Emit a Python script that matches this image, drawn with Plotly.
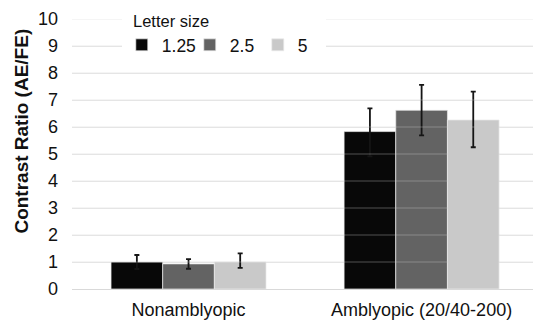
import plotly.graph_objects as go

# Group means and error bars, by letter size
groups = ["Nonamblyopic", "Amblyopic (20/40-200)"]
sizes = ["1.25", "2.5", "5"]
means_125 = [1.00, 5.83]
means_25 = [0.93, 6.62]
means_5 = [1.00, 6.26]
err_up_125 = [0.26, 0.86]
err_dn_125 = [0.26, 0.92]
err_up_25 = [0.18, 0.94]
err_dn_25 = [0.18, 0.93]
err_up_5 = [0.32, 1.05]
err_dn_5 = [0.22, 1.01]
y_ticks = list(range(0, 11))

colors = ["#080808", "#636363", "#c9c9c9"]
series = [
    (means_125, err_up_125, err_dn_125),
    (means_25, err_up_25, err_dn_25),
    (means_5, err_up_5, err_dn_5),
]

FONT = "Liberation Sans, Arial, sans-serif"

fig = go.Figure()
for name, color, (vals, up, dn) in zip(sizes, colors, series):
    fig.add_trace(go.Bar(
        name=name,
        x=groups,
        y=vals,
        marker=dict(color=color, line=dict(color="rgba(235,235,235,0.7)", width=1)),
        error_y=dict(type="data", array=up, arrayminus=dn, symmetric=False,
                     color="#151515", thickness=1.8, width=2.5),
    ))

# faint gridlines that show through the bars
grid_shapes = [
    dict(type="line", xref="paper", yref="y", x0=0, x1=1, y0=v, y1=v,
         line=dict(color="rgba(200,200,200,0.38)", width=1), layer="above")
    for v in y_ticks[1:]
]

fig.update_layout(
    width=533, height=324,
    margin=dict(l=72, r=0, t=19, b=35),
    paper_bgcolor="white", plot_bgcolor="white",
    font=dict(family=FONT, color="#111"),
    barmode="group", bargap=0.335, bargroupgap=0,
    showlegend=True,
    legend=dict(
        orientation="h",
        title=dict(text="\u00a0\u00a0Letter size", side="top", font=dict(size=16.5)),
        font=dict(size=17.5),
        entrywidth=23, entrywidthmode="pixels",
        x=0.108, xanchor="left", y=1.05, yanchor="top",
        bgcolor="white", borderwidth=0,
        traceorder="normal",
    ),
    xaxis=dict(
        range=[-0.5, 1.478],
        showgrid=False, showline=False, zeroline=False, ticks="",
        tickfont=dict(size=18),
        ticklabelstandoff=8,
    ),
    yaxis=dict(
        range=[0, 10], tickvals=y_ticks,
        showgrid=True, gridcolor="#ececec", gridwidth=1,
        zeroline=True, zerolinecolor="#d9d9d9", zerolinewidth=1,
        showline=False, ticks="",
        tickfont=dict(size=18),
        ticklabelstandoff=13,
    ),
    shapes=grid_shapes,
    annotations=[dict(
        text="<b>Contrast Ratio (AE/FE)</b>", textangle=-90,
        xref="paper", yref="paper", x=-0.1095, y=0.585,
        xanchor="center", yanchor="middle", showarrow=False,
        font=dict(size=19, family=FONT, color="#111"),
    )],
)

fig.write_html("out.html")
